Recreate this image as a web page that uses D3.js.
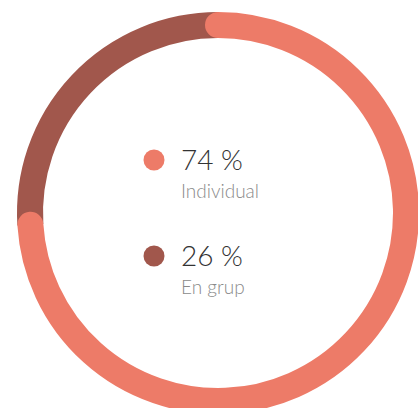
<!DOCTYPE html>
<html>
<head>
<meta charset="utf-8">
<script src="https://cdn.jsdelivr.net/npm/d3@7"></script>
<style>
  html, body { margin: 0; padding: 0; background: #fff; }
  svg { display: block; }
</style>
</head>
<body>
<div id="chart"></div>
<script>
const categories = ['Individual', 'En grup'];
const values = [74, 26];
const valueLabels = ['74 %', '26 %'];
const colors = ['#ED7B68', '#A1574C'];

const width = 418, height = 408;
const cx = 218, cy = 213;
const ringRadius = 188;
const ringWidth = 26;

const svg = d3.select('#chart')
  .append('svg')
    .attr('width', width)
    .attr('height', height);

const pie = d3.pie().sort(null).value(d => d);
const slices = pie(values);

// stroke path along the middle of the ring
const ringPath = d => {
  const p = d3.path();
  p.arc(cx, cy, ringRadius, d.startAngle - Math.PI / 2, d.endAngle - Math.PI / 2);
  return p.toString();
};

// draw the smaller slice first, the big one goes on top with round caps
svg.append('path')
  .attr('d', ringPath(slices[1]))
  .attr('fill', 'none')
  .attr('stroke', colors[1])
  .attr('stroke-width', ringWidth);

svg.append('path')
  .attr('d', ringPath(slices[0]))
  .attr('fill', 'none')
  .attr('stroke', colors[0])
  .attr('stroke-width', ringWidth)
  .attr('stroke-linecap', 'round');

// legend in the middle
const rowY = d3.scalePoint().domain(categories).range([160, 256]);

const legend = svg.selectAll('g.item')
  .data(categories)
  .enter()
  .append('g')
    .attr('class', 'item')
    .attr('transform', d => `translate(154, ${rowY(d)})`);

legend.append('circle')
  .attr('r', 10.5)
  .attr('fill', (d, i) => colors[i]);

legend.append('text')
  .attr('x', 27)
  .attr('y', 10)
  .style('font-family', 'Lato, sans-serif')
  .style('font-weight', 300)
  .style('font-size', '28px')
  .style('fill', '#333')
  .text((d, i) => valueLabels[i]);

legend.append('text')
  .attr('x', 27)
  .attr('y', 38)
  .style('font-family', 'Lato, sans-serif')
  .style('font-weight', 300)
  .style('font-size', '19px')
  .style('fill', '#8a8a8a')
  .text(d => d);
</script>
</body>
</html>
